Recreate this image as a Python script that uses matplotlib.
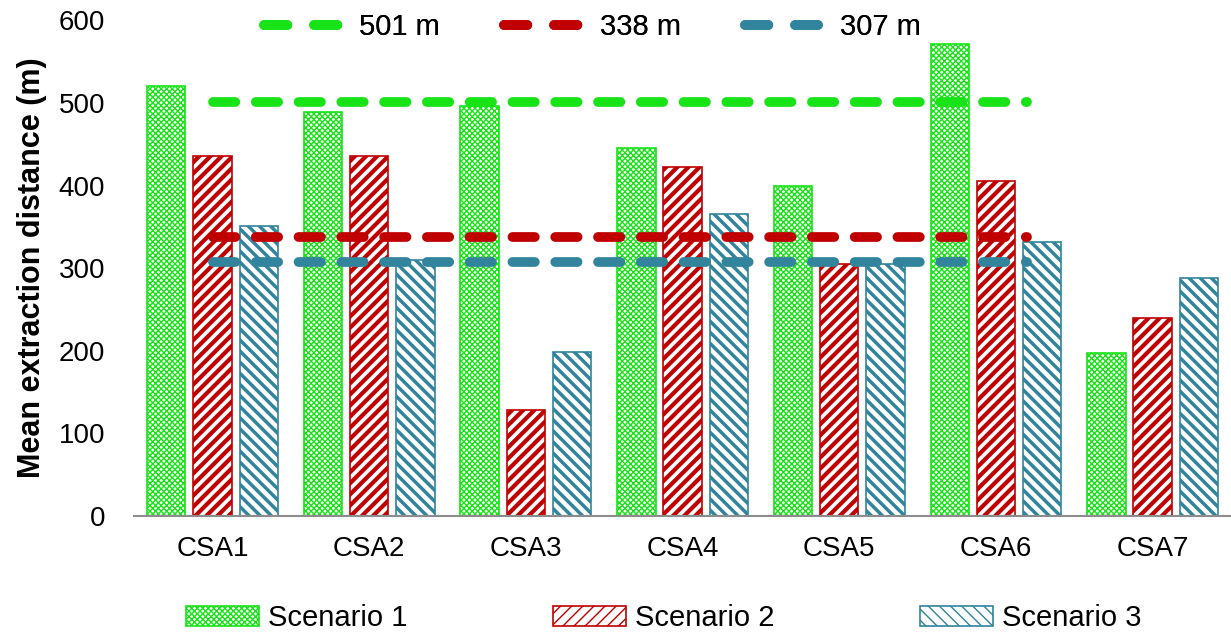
import numpy as np
import matplotlib.pyplot as plt
from matplotlib.lines import Line2D
from matplotlib.patches import Patch

plt.rcParams['font.family'] = ['Liberation Sans', 'DejaVu Sans']

categories = ['CSA1', 'CSA2', 'CSA3', 'CSA4', 'CSA5', 'CSA6', 'CSA7']
scenario1 = [520, 489, 496, 446, 400, 571, 197]
scenario2 = [436, 436, 128, 422, 305, 405, 240]
scenario3 = [351, 310, 198, 366, 305, 332, 288]
scenario_names = ['Scenario 1', 'Scenario 2', 'Scenario 3']
means = [501, 338, 307]
mean_labels = ['501 m', '338 m', '307 m']

colors = ['#17e317', '#c00000', '#31849b']
hatches = ['xxxxxx', '///', '\\\\\\']
hatch_lw = [1.0, 3.0, 2.5]

fig = plt.figure(figsize=(12.31, 6.34), dpi=100)
ax = fig.add_axes([0.109, 0.186, 0.891, 0.782])

x = np.arange(len(categories))
width = 0.245
offsets = [-0.295, 0, 0.295]
for vals, off, c, h, hl in zip([scenario1, scenario2, scenario3], offsets, colors, hatches, hatch_lw):
    bars = ax.bar(x + off, vals, width, facecolor='white', edgecolor=c, hatch=h, linewidth=1.2)
    for b in bars:
        try:
            b.set_hatch_linewidth(hl)
        except AttributeError:
            pass

# mean lines
for m, c in zip(means, colors):
    ax.plot([0, 5.2], [m, m], color=c, lw=7, dashes=(2.3, 2.1), dash_capstyle='round')

ax.set_xlim(-0.5, len(categories) - 0.5)
ax.set_ylim(0, 600)
ax.set_yticks(range(0, 601, 100))
ax.set_xticks(x)
ax.set_xticklabels(categories)
ax.tick_params(axis='both', length=0, labelsize=20)
ax.tick_params(axis='x', pad=14)
ax.tick_params(axis='y', pad=21)
for s in ['top', 'right', 'left']:
    ax.spines[s].set_visible(False)
ax.spines['bottom'].set_color('#8c8c8c')
ax.spines['bottom'].set_linewidth(1.5)
ax.set_ylabel('Mean extraction distance (m)', fontsize=22, fontweight='bold', labelpad=8)

# top legend for mean lines (two dashes per handle)
line_handles = [Line2D([0], [0], color=c, lw=7, dashes=(2.4, 2.75), dash_capstyle='round') for c in colors]
leg1 = ax.legend(line_handles, mean_labels, ncol=3, loc='center', bbox_to_anchor=(0.418, 0.986),
                 frameon=False, fontsize=21, handlelength=2.52, columnspacing=2.2, handletextpad=0.75)
ax.add_artist(leg1)

# bottom legend for scenarios
patch_handles = []
for c, h, hl in zip(colors, hatches, hatch_lw):
    p = Patch(facecolor='white', edgecolor=c, hatch=h, linewidth=1.2)
    try:
        p.set_hatch_linewidth(hl)
    except AttributeError:
        pass
    patch_handles.append(p)
fig.legend(patch_handles, scenario_names, ncol=3, loc='center', bbox_to_anchor=(0.539, 0.025),
           frameon=False, fontsize=21, handlelength=2.5, handleheight=0.65, columnspacing=5.0, handletextpad=0.3)

fig.savefig('out.png', dpi=100)
